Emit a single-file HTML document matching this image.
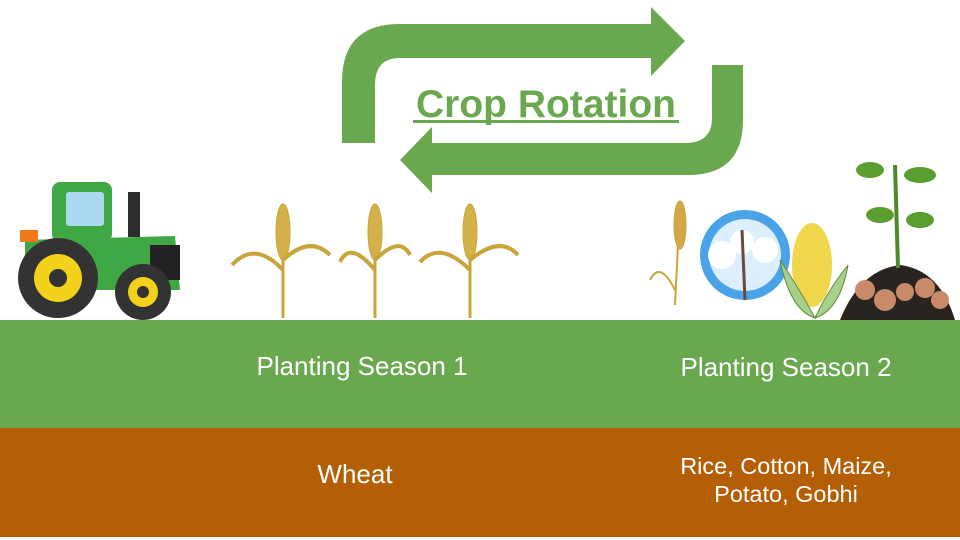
<!DOCTYPE html>
<html><head><meta charset="utf-8"><style>
html,body{margin:0;padding:0;background:#fff}
#root{position:relative;width:960px;height:540px;overflow:hidden;background:#fff;font-family:"Liberation Sans",sans-serif}
.t{position:absolute;color:#fff;font-size:26px;text-align:center;white-space:nowrap;transform:translateX(-50%)}
</style></head><body>
<div id="root">
<svg width="960" height="540" style="position:absolute;left:0;top:0">
  <rect x="0" y="320" width="960" height="108" fill="#6aa84f"/>
  <rect x="0" y="428" width="960" height="109" fill="#b45f06"/>
  <path fill="#6aa84f" d="M342,143 L342,82 Q342,24 400,24 L651,24 L651,7 L685,41 L651,76 L651,58 L400,58 Q375,58 375,85 L375,143 Z"/>
  <path fill="#6aa84f" d="M743,65 L743,120 Q743,175 688,175 L432,175 L432,193 L400,160 L432,127 L432,143 L685,143 Q712,143 712,118 L712,65 Z"/>
  <text x="546" y="117" text-anchor="middle" font-family="Liberation Sans, sans-serif" font-weight="bold" font-size="39" fill="#6aa84f">Crop Rotation</text>
  <rect x="413" y="120" width="266" height="3" fill="#6aa84f"/>
  <g>
    <rect x="52" y="182" width="60" height="60" rx="8" fill="#3fa845"/>
    <rect x="66" y="192" width="38" height="34" rx="3" fill="#a9d8f0"/>
    <rect x="128" y="192" width="12" height="45" fill="#2d2d2d"/>
    <path d="M25,240 L175,236 L180,290 L25,290 Z" fill="#3fa845"/>
    <rect x="150" y="245" width="30" height="35" fill="#222"/>
    <rect x="20" y="230" width="18" height="12" fill="#f07a1a"/>
    <circle cx="58" cy="278" r="40" fill="#333"/>
    <circle cx="58" cy="278" r="24" fill="#f2d21b"/>
    <circle cx="58" cy="278" r="9" fill="#333"/>
    <circle cx="143" cy="292" r="28" fill="#333"/>
    <circle cx="143" cy="292" r="15" fill="#f2d21b"/>
    <circle cx="143" cy="292" r="6" fill="#333"/>
  </g>
  <g stroke="#c9a43a" fill="#d4b048">
    <g><line x1="283" y1="318" x2="283" y2="210" stroke-width="3"/><ellipse cx="283" cy="232" rx="7" ry="28"/><path d="M283,270 Q255,240 232,265" fill="none" stroke-width="4"/><path d="M283,260 Q310,235 330,255" fill="none" stroke-width="4"/></g>
    <g><line x1="375" y1="318" x2="375" y2="210" stroke-width="3"/><ellipse cx="375" cy="232" rx="7" ry="28"/><path d="M375,270 Q350,240 340,262" fill="none" stroke-width="4"/><path d="M375,260 Q400,235 410,255" fill="none" stroke-width="4"/></g>
    <g><line x1="470" y1="318" x2="470" y2="210" stroke-width="3"/><ellipse cx="470" cy="232" rx="7" ry="28"/><path d="M470,270 Q440,240 420,262" fill="none" stroke-width="4"/><path d="M470,260 Q500,235 518,255" fill="none" stroke-width="4"/></g>
  </g>
  <g stroke="#c9a43a" fill="#d4a848">
    <line x1="675" y1="305" x2="680" y2="205" stroke-width="2"/><ellipse cx="680" cy="225" rx="6" ry="24"/>
    <path d="M675,290 Q660,260 650,280" fill="none" stroke-width="2"/>
  </g>
  <g>
    <circle cx="745" cy="255" r="45" fill="#4aa3e8"/>
    <circle cx="745" cy="255" r="36" fill="#dcefff"/>
    <circle cx="722" cy="255" r="14" fill="#fff"/><circle cx="742" cy="242" r="12" fill="#fff"/><circle cx="765" cy="250" r="13" fill="#fff"/>
    <path d="M742,230 L745,300" stroke="#6b4a3a" stroke-width="3"/>
  </g>
  <g>
    <ellipse cx="812" cy="265" rx="20" ry="42" fill="#f0d64a"/>
    <path d="M780,260 Q800,290 815,318 Q790,310 780,260 Z" fill="#a8d08d" stroke="#5e8c3a"/>
    <path d="M848,265 Q828,290 815,318 Q840,310 848,265 Z" fill="#a8d08d" stroke="#5e8c3a"/>
  </g>
  <g>
    <path d="M840,320 Q860,270 900,265 Q940,270 955,320 Z" fill="#2a2420"/>
    <circle cx="865" cy="290" r="10" fill="#c98a6a"/><circle cx="885" cy="300" r="11" fill="#c98a6a"/><circle cx="905" cy="292" r="9" fill="#c98a6a"/><circle cx="925" cy="288" r="10" fill="#c98a6a"/><circle cx="940" cy="300" r="9" fill="#c98a6a"/>
    <line x1="898" y1="268" x2="895" y2="165" stroke="#4f8a2a" stroke-width="4"/>
    <ellipse cx="870" cy="170" rx="14" ry="8" fill="#5a9e2f"/><ellipse cx="920" cy="175" rx="16" ry="8" fill="#5a9e2f"/>
    <ellipse cx="880" cy="215" rx="14" ry="8" fill="#5a9e2f"/><ellipse cx="920" cy="220" rx="14" ry="8" fill="#5a9e2f"/>
  </g>
</svg>
<div class="t" style="left:362px;top:351px">Planting Season 1</div>
<div class="t" style="left:786px;top:352px">Planting Season 2</div>
<div class="t" style="left:355px;top:459px">Wheat</div>
<div class="t" style="left:786px;top:452px;font-size:23.5px;line-height:28px">Rice, Cotton, Maize,<br>Potato, Gobhi</div>
</div>
</body></html>
